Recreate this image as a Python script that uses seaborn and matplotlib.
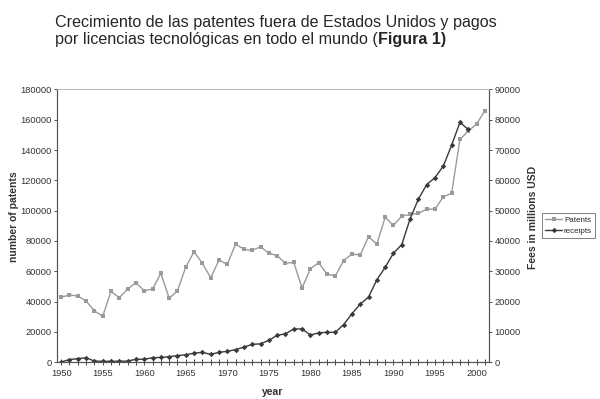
import pandas as pd
import matplotlib.pyplot as plt
import seaborn as sns
from matplotlib.ticker import MultipleLocator

sns.set_style("white")
plt.rcParams['font.family'] = ['Liberation Sans', 'DejaVu Sans']

# Data
years = list(range(1950, 2002))
patents = [42900, 44400, 43700, 40400, 34000, 30300, 46800, 42600, 48300, 52500,
           47200, 48300, 58700, 42200, 47200, 62800, 72900, 65300, 55800, 67400,
           64600, 78000, 74500, 73800, 76200, 72000, 70300, 65300, 65900, 49000,
           61700, 65700, 58200, 56900, 67000, 71400, 70700, 82800, 78000, 95600,
           90300, 96400, 97500, 98200, 101000, 101000, 109200, 111400, 147000, 152500,
           157100, 165900]
receipt_years = list(range(1950, 2000))
receipts = [100, 900, 1200, 1500, 400, 330, 330, 350, 400, 1000,
            1000, 1500, 1600, 1850, 2200, 2500, 3000, 3300, 2600, 3300,
            3600, 4200, 5000, 5900, 6100, 7200, 8900, 9400, 11000, 11000,
            9000, 9700, 9900, 9900, 12400, 16000, 19200, 21500, 27200, 31300,
            36000, 38800, 47300, 53800, 58600, 60900, 64700, 71600, 79100, 76800]

pat_df = pd.DataFrame({'year': years, 'Patents': patents})
rec_df = pd.DataFrame({'year': receipt_years, 'receipts': receipts})

fig = plt.figure(figsize=(6, 3.99), dpi=100)
ax = fig.add_axes([0.095, 0.092, 0.72, 0.684])
ax2 = ax.twinx()

sns.lineplot(data=pat_df, x='year', y='Patents', ax=ax, color='#9a9a9a',
             marker='s', markersize=3.5, markeredgewidth=0, linewidth=1.0,
             label='Patents', legend=False)
sns.lineplot(data=rec_df, x='year', y='receipts', ax=ax2, color='#3a3a3a',
             marker='D', markersize=2.8, markeredgewidth=0, linewidth=1.0,
             label='receipts', legend=False)

ax.set_xlim(1949.5, 2001.5)
ax.set_ylim(0, 180000)
ax2.set_ylim(0, 90000)
ax.yaxis.set_major_locator(MultipleLocator(20000))
ax2.yaxis.set_major_locator(MultipleLocator(10000))
ax.xaxis.set_major_locator(MultipleLocator(5))
ax.xaxis.set_minor_locator(MultipleLocator(1))

for a in (ax, ax2):
    for side in ('left', 'right', 'bottom'):
        a.spines[side].set_color('#555555')
        a.spines[side].set_linewidth(0.8)
    a.spines['top'].set_color('#bbbbbb')
    a.spines['top'].set_linewidth(0.6)
    a.tick_params(labelsize=6.7, colors='#333333', length=3, width=0.6, pad=2)

ax.tick_params(axis='x', which='both', direction='inout', length=5, width=0.6,
               bottom=True)
ax.tick_params(axis='y', which='major', left=True, direction='out', length=2)
ax2.tick_params(axis='y', which='major', right=True, direction='out', length=2)

ax.set_xlabel('year', fontsize=7.5, fontweight='bold', color='#333333')
ax.set_ylabel('number of patents', fontsize=7.5, fontweight='bold', color='#333333')
ax2.set_ylabel('Fees in millions USD', fontsize=7.5, fontweight='bold',
               color='#333333')
ax.xaxis.set_label_coords(0.5, -0.09)
ax.yaxis.set_label_coords(-0.088, 0.535)
ax2.yaxis.set_label_coords(1.09, 0.53)

handles = ax.get_lines()[:1] + ax2.get_lines()[:1]
leg = fig.legend(handles, ['Patents', 'receipts'], loc='center left',
                 bbox_to_anchor=(0.897, 0.435), fontsize=5.8, frameon=True,
                 fancybox=False, edgecolor='#444444', borderpad=0.4,
                 handlelength=2.0, handletextpad=0.3, labelspacing=0.4)
leg.get_frame().set_linewidth(0.6)

fig.text(0.092, 0.933, 'Crecimiento de las patentes fuera de Estados Unidos y pagos',
         fontsize=11.6, ha='left', va='baseline')
t = fig.text(0.092, 0.889, 'por licencias tecnológicas en todo el mundo (',
             fontsize=11.6, ha='left', va='baseline')
fig.canvas.draw()
bb = t.get_window_extent().transformed(fig.transFigure.inverted())
fig.text(bb.x1, 0.889, 'Figura 1)', fontsize=11.6, fontweight='bold', ha='left',
         va='baseline')

plt.savefig('out.png', dpi=100)
plt.close()
